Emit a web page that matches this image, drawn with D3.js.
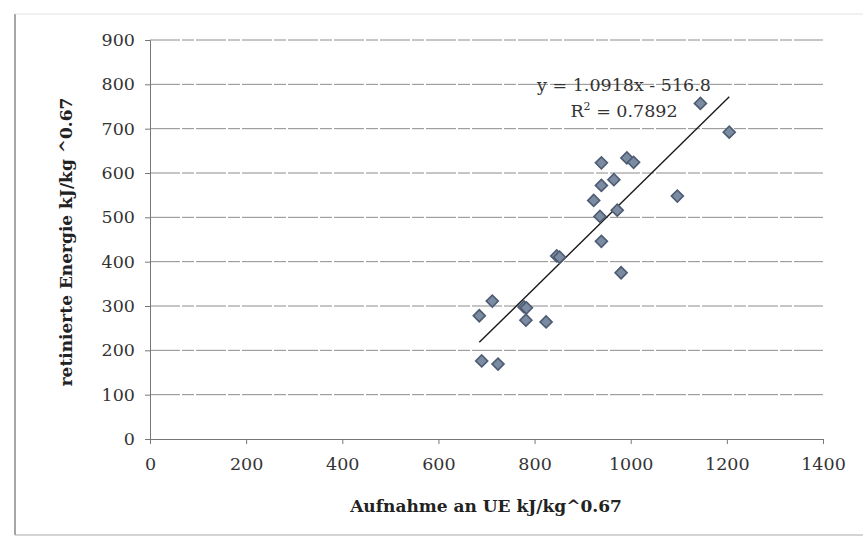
<!DOCTYPE html>
<html><head><meta charset="utf-8">
<script src="https://cdn.jsdelivr.net/npm/d3@7/dist/d3.min.js"></script>
<style>body{margin:0;background:#fff}svg{display:block}</style>
</head><body><svg id="c" width="863" height="540"></svg>
<script>
const xValues = [1145,1205,939,992,1006,939,965,923,1097,972,936,939,846,852,980,712,778,685,782,824,690,724,783];
const yValues = [757,692,623,634,624,572,585,538,548,516,502,446,413,410,375,311,298,278,268,264,176,169,296];
const xTicks = [0,200,400,600,800,1000,1200,1400];
const yTicks = [0,100,200,300,400,500,600,700,800,900];
const eqText = "y = 1.0918x - 516.8";
const r2Text = "0.7892";
const xTitle = "Aufnahme an UE kJ/kg^0.67";
const yTitle = "retinierte Energie kJ/kg ^0.67";

const svg = d3.select("#c");
const font = "'DejaVu Serif', 'Liberation Serif', serif";
const x = d3.scaleLinear().domain([0,1400]).range([150,823]);
const y = d3.scaleLinear().domain([0,900]).range([439,40]);

// outer border (scanned chart area)
svg.append("line").attr("x1",15).attr("x2",15).attr("y1",14).attr("y2",535).attr("stroke","#888").attr("stroke-width",1.5);
svg.append("line").attr("x1",15).attr("x2",863).attr("y1",535).attr("y2",535).attr("stroke","#aaa").attr("stroke-width",1.2);
svg.append("line").attr("x1",15).attr("x2",863).attr("y1",14).attr("y2",14).attr("stroke","#e2e2e2").attr("stroke-width",1);

// gridlines
svg.append("g").selectAll("line").data(yTicks.filter(d=>d>0)).join("line")
  .attr("x1",x(0)).attr("x2",x(1400)).attr("y1",d=>y(d)).attr("y2",d=>y(d))
  .attr("stroke","#8c8c8c").attr("stroke-width",1).attr("stroke-dasharray","30,2,12,2");

// axes
const yAxis = svg.append("g").attr("transform",`translate(${x(0)},0)`)
  .call(d3.axisLeft(y).tickValues(yTicks).tickFormat(d3.format("d")).tickSize(5).tickPadding(10));
const xAxis = svg.append("g").attr("transform",`translate(0,${y(0)})`)
  .call(d3.axisBottom(x).tickValues(xTicks).tickFormat(d3.format("d")).tickSize(5).tickPadding(14));
[xAxis,yAxis].forEach(g=>{
  g.select(".domain").attr("stroke","#777");
  g.selectAll(".tick line").attr("stroke","#777");
  g.selectAll("text").attr("font-family",font).attr("font-size",17.5).attr("fill","#333");
});

// titles
svg.append("text").attr("x",486).attr("y",512).attr("text-anchor","middle")
  .attr("font-family",font).attr("font-weight","bold").attr("font-size",17).attr("fill","#222").text(xTitle);
svg.append("text").attr("transform","translate(72,242) rotate(-90)").attr("text-anchor","middle")
  .attr("font-family",font).attr("font-weight","bold").attr("font-size",17).attr("fill","#222").text(yTitle);

// trendline: least-squares fit of the points
const mx = d3.mean(xValues), my = d3.mean(yValues);
const slope = d3.sum(xValues.map((v,i)=>(v-mx)*(yValues[i]-my))) / d3.sum(xValues.map(v=>(v-mx)*(v-mx)));
const intercept = my - slope*mx;
const xMin = d3.min(xValues), xMax = d3.max(xValues);
svg.append("line").attr("x1",x(xMin)).attr("y1",y(slope*xMin+intercept))
  .attr("x2",x(xMax)).attr("y2",y(slope*xMax+intercept))
  .attr("stroke","#1a1a1a").attr("stroke-width",1.4);

// points
const pts = xValues.map((v,i)=>[v,yValues[i]]);
svg.append("g").selectAll("path").data(pts).join("path")
  .attr("d",d3.symbol(d3.symbolSquare, 72))
  .attr("transform",d=>`translate(${x(d[0])},${y(d[1])}) rotate(45)`)
  .attr("fill","#7a8ba2").attr("stroke","#4d5b72").attr("stroke-width",1.6);

// equation
svg.append("text").attr("x",624).attr("y",91).attr("text-anchor","middle")
  .attr("font-family",font).attr("font-size",17.5).attr("fill","#333").text(eqText);
const r = svg.append("text").attr("x",624).attr("y",117).attr("text-anchor","middle")
  .attr("font-family",font).attr("font-size",17.5).attr("fill","#333");
r.append("tspan").text("R");
r.append("tspan").attr("dy",-7).attr("font-size",11).text("2");
r.append("tspan").attr("dy",7).text(" = " + r2Text);
</script></body></html>
